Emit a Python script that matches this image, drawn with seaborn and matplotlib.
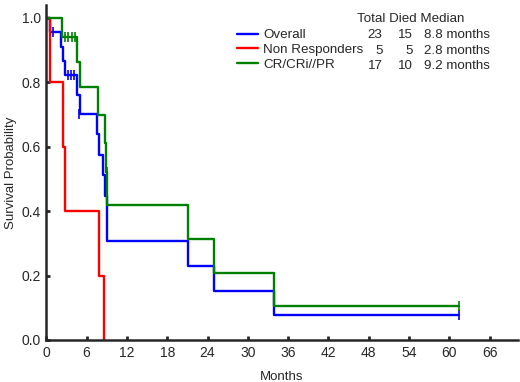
import numpy as np
import pandas as pd
import seaborn as sns
import matplotlib
matplotlib.use("Agg")
from matplotlib import pyplot as plt

# Kaplan-Meier step data
overall_t = [0, 0.5, 2.2, 2.5, 2.8, 4.6, 5.0, 7.6, 7.9, 8.5, 8.7, 9.1, 21.1, 24.9, 33.9, 61.5]
overall_s = [1.0, 0.957, 0.909, 0.866, 0.822, 0.761, 0.70, 0.638, 0.575, 0.511, 0.447, 0.307, 0.230, 0.153, 0.077, 0.077]
overall_cens_t = [1.0, 3.2, 3.7, 4.2, 4.9, 9.0, 61.5]
overall_cens_s = [0.957, 0.822, 0.822, 0.822, 0.70, 0.384, 0.077]

nonresp_t = [0, 0.6, 2.5, 2.8, 7.9, 8.6]
nonresp_s = [1.0, 0.8, 0.6, 0.4, 0.2, 0.0]

cr_t = [0, 2.3, 4.6, 5.0, 7.7, 8.8, 8.95, 9.1, 21.1, 24.9, 33.9, 61.5]
cr_s = [1.0, 0.941, 0.863, 0.784, 0.697, 0.61, 0.523, 0.418, 0.313, 0.209, 0.104, 0.104]
cr_cens_t = [2.8, 3.3, 3.8, 4.3, 9.0, 61.5]
cr_cens_s = [0.941, 0.941, 0.941, 0.941, 0.523, 0.104]

groups = ["Overall", "Non Responders", "CR/CRi//PR"]
totals = ["23", "5", "17"]
died = ["15", "5", "10"]
medians = ["8.8 months", "2.8 months", "9.2 months"]
colors = ["#0000ff", "#ff0000", "#008000"]

xticks = [0, 6, 12, 18, 24, 30, 36, 42, 48, 54, 60, 66]
yticks = [0.0, 0.2, 0.4, 0.6, 0.8, 1.0]

sns.set_style("ticks")
plt.rcParams["font.family"] = ["Liberation Sans", "DejaVu Sans"]

fig = plt.figure(figsize=(5.2, 3.82), dpi=100)
ax = fig.add_axes([0.089, 0.11, 0.907, 0.877])

curves = [(overall_t, overall_s), (nonresp_t, nonresp_s), (cr_t, cr_s)]
for (t, s), name, c in zip(curves, groups, colors):
    sns.lineplot(x=t, y=s, drawstyle="steps-post", color=c, lw=1.7,
                 estimator=None, sort=False, ax=ax, label=name)

for t, s, c in [(overall_cens_t, overall_cens_s, colors[0]), (cr_cens_t, cr_cens_s, colors[2])]:
    ax.plot(t, s, ls="none", marker="|", ms=7, mew=1.2, color=c)

ax.set_xlim(0, 70.2)
ax.set_ylim(0, 1.04)
ax.set_xticks(xticks)
ax.set_yticks(yticks)
ax.set_yticklabels([f"{v:.1f}" for v in yticks])
ax.tick_params(direction="in", length=3, width=2, labelsize=10, pad=4)
sns.despine(ax=ax)
for sp in ["left", "bottom"]:
    ax.spines[sp].set_linewidth(1.8)
ax.set_xlabel("Months", fontsize=9.5, labelpad=8)
ax.set_ylabel("Survival Probability", fontsize=9.5, labelpad=3)

fs = 9.6
leg = ax.legend(loc="upper left", bbox_to_anchor=(0.404, 0.928), frameon=False,
                fontsize=fs, handlelength=1.6, handletextpad=0.38,
                labelspacing=0.17, borderaxespad=0, borderpad=0)

# table columns next to the legend
ax.text(0.658, 0.959, "Total Died Median", transform=ax.transAxes, fontsize=fs,
        va="center", ha="left")
row_y = [0.909, 0.863, 0.817]
for y, a, b, m in zip(row_y, totals, died, medians):
    ax.text(0.713, y, a, transform=ax.transAxes, fontsize=fs, va="center", ha="right")
    ax.text(0.777, y, b, transform=ax.transAxes, fontsize=fs, va="center", ha="right")
    ax.text(0.801, y, m, transform=ax.transAxes, fontsize=fs, va="center", ha="left")

fig.savefig("out.png", dpi=100)
